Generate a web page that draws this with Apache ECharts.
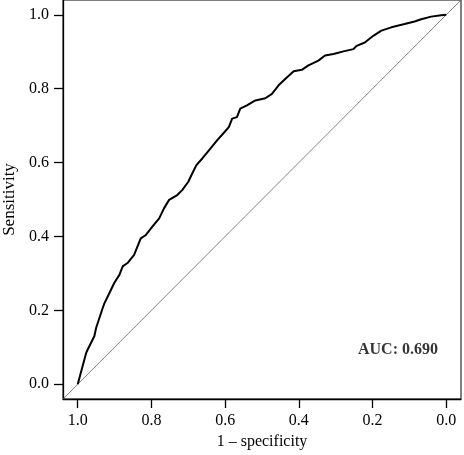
<!DOCTYPE html>
<html>
<head>
<meta charset="utf-8">
<title>ROC</title>
<style>
  html, body { margin: 0; padding: 0; background: #fff; }
  #container { width: 464px; height: 455px; }
</style>
</head>
<body>
<div id="container"></div>
<script src="https://cdn.jsdelivr.net/npm/echarts@6/dist/echarts.min.js"></script>
<script type="text/javascript">
  // ROC curve points (specificity, sensitivity)
  var specificity = [1.000, 0.977, 0.973, 0.955, 0.950, 0.932, 0.928, 0.914, 0.901, 0.887,
    0.878, 0.865, 0.847, 0.829, 0.815, 0.797, 0.779, 0.766, 0.752, 0.730,
    0.716, 0.700, 0.689, 0.678, 0.662, 0.644, 0.622, 0.604, 0.590, 0.581,
    0.568, 0.559, 0.541, 0.518, 0.491, 0.473, 0.455, 0.432, 0.414, 0.392,
    0.374, 0.347, 0.329, 0.306, 0.279, 0.252, 0.243, 0.221, 0.198, 0.176,
    0.149, 0.113, 0.086, 0.068, 0.041, 0.014, 0.000];
  var sensitivity = [0.000, 0.085, 0.094, 0.130, 0.153, 0.207, 0.218, 0.247, 0.274, 0.296,
    0.319, 0.328, 0.350, 0.395, 0.404, 0.427, 0.449, 0.476, 0.499, 0.512,
    0.526, 0.548, 0.571, 0.593, 0.611, 0.633, 0.660, 0.680, 0.696, 0.719,
    0.723, 0.746, 0.755, 0.768, 0.774, 0.786, 0.809, 0.831, 0.847, 0.851,
    0.863, 0.876, 0.890, 0.894, 0.901, 0.907, 0.916, 0.925, 0.943, 0.957,
    0.966, 0.975, 0.982, 0.988, 0.995, 0.999, 1.000];
  var tickValues = [0, 0.2, 0.4, 0.6, 0.8, 1.0];
  var aucText = 'AUC: 0.690';
  var aucPos = [0.131, 0.093];

  var axisMin = -0.04, axisMax = 1.04;
  var font = '"Liberation Serif", "DejaVu Serif", serif';

  var curve = specificity.map(function (s, i) { return [s, sensitivity[i]]; });
  var diagonal = [[axisMax, axisMin], [axisMin, axisMax]];

  var myChart = echarts.init(document.getElementById('container'));
  var option = {
    backgroundColor: '#fff',
    animation: false,
    grid: {
      left: 63, right: 3, top: 0, bottom: 56,
      show: true, borderColor: '#000', borderWidth: 1,
      containLabel: false,
      outerBoundsMode: 'none'
    },
    xAxis: {
      type: 'value', inverse: true, min: axisMin, max: axisMax,
      name: '1 \u2013 specificity', nameLocation: 'middle', nameGap: 35,
      nameTextStyle: { fontFamily: font, fontSize: 16, color: '#000' },
      axisLine: { show: true, onZero: false, lineStyle: { color: '#000', width: 1.3 } },
      axisTick: { show: true, length: 9, customValues: tickValues, lineStyle: { color: '#000', width: 1.3 } },
      axisLabel: {
        customValues: tickValues, margin: 14, fontFamily: font, fontSize: 16, color: '#000',
        formatter: function (v) { return v.toFixed(1); }
      },
      splitLine: { show: false }
    },
    yAxis: {
      type: 'value', min: axisMin, max: axisMax,
      name: 'Sensitivity', nameLocation: 'middle', nameGap: 44,
      nameTextStyle: { fontFamily: font, fontSize: 17, color: '#000' },
      axisLine: { show: true, onZero: false, lineStyle: { color: '#000', width: 1.3 } },
      axisTick: { show: true, length: 9, customValues: tickValues, lineStyle: { color: '#000', width: 1.3 } },
      axisLabel: {
        customValues: tickValues, margin: 14, fontFamily: font, fontSize: 16, color: '#000',
        formatter: function (v) { return v.toFixed(1); }
      },
      splitLine: { show: false }
    },
    series: [
      {
        type: 'line', data: diagonal, showSymbol: false, silent: true,
        lineStyle: { color: '#666', width: 0.8 }, z: 1
      },
      {
        type: 'line', data: curve, showSymbol: false, silent: true,
        lineStyle: { color: '#000', width: 2 }, z: 2
      },
      {
        type: 'scatter', data: [aucPos], symbolSize: 0, silent: true,
        label: {
          show: true, position: 'inside', formatter: aucText,
          fontFamily: font, fontSize: 16, color: '#000', fontWeight: 'bold'
        }
      }
    ]
  };
  myChart.setOption(option);
</script>
</body>
</html>
